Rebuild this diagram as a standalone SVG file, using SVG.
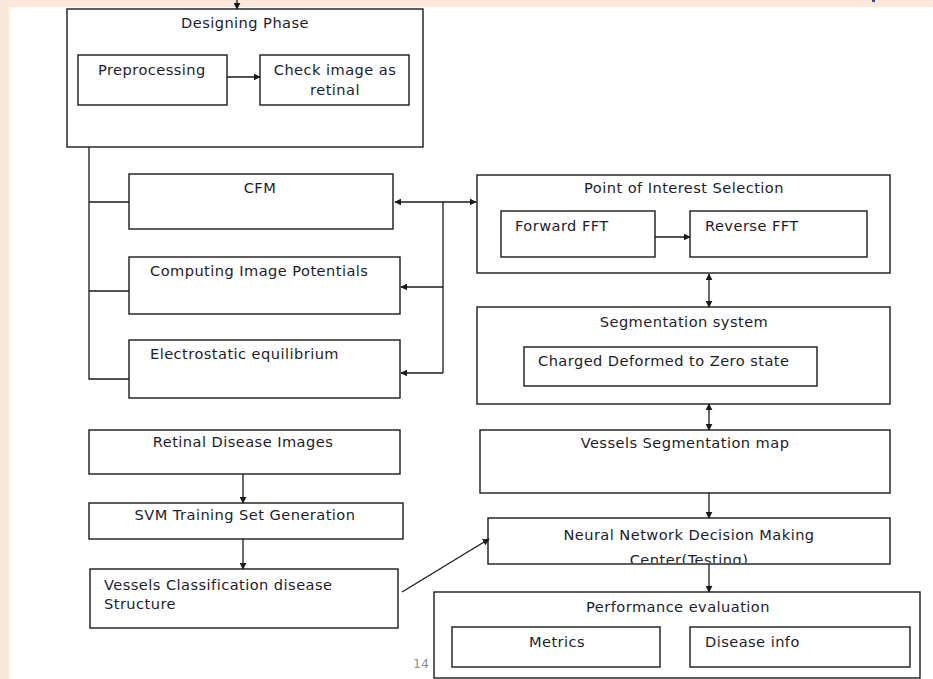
<svg xmlns="http://www.w3.org/2000/svg" width="933" height="679" viewBox="0 0 933 679">
<defs>
<style>
.box{fill:#fff;stroke:#1a1a1a;stroke-width:1.4}
.ln{fill:none;stroke:#1a1a1a;stroke-width:1.3}
.t{font-family:"DejaVu Sans","Liberation Sans",sans-serif;font-size:14.6px;letter-spacing:0.45px;fill:#1c1c2c}
.c{text-anchor:middle}
</style>
<marker id="ah" viewBox="0 0 10 10" refX="9" refY="5" markerWidth="7" markerHeight="7" orient="auto-start-reverse" markerUnits="userSpaceOnUse">
<path d="M0,0 L10,5 L0,10 z" fill="#1a1a1a"/>
</marker>
<clipPath id="nnclip"><rect x="488" y="518" width="402" height="45"/></clipPath>
</defs>
<rect x="0" y="0" width="933" height="679" fill="#fff"/>
<rect x="0" y="0" width="933" height="7" fill="#fce8da"/>
<rect x="0" y="0" width="9" height="679" fill="#fce8da"/>
<rect x="872" y="0" width="3" height="2" fill="#3a4a80"/>

<g id="designing">
<rect class="box" x="67" y="9" width="356" height="138"/>
<text class="t c" x="245" y="28">Designing Phase</text>
</g>
<g id="preprocessing">
<rect class="box" x="78" y="55" width="149" height="50"/>
<text class="t" x="98" y="75">Preprocessing</text>
</g>
<g id="check">
<rect class="box" x="260" y="55" width="149" height="50"/>
<text class="t c" x="335" y="75">Check image as</text>
<text class="t c" x="335" y="95">retinal</text>
</g>
<g id="cfm">
<rect class="box" x="129" y="174" width="264" height="55"/>
<text class="t c" x="260" y="193">CFM</text>
</g>
<g id="computing">
<rect class="box" x="129" y="257" width="271" height="57"/>
<text class="t" x="150" y="276">Computing Image Potentials</text>
</g>
<g id="electro">
<rect class="box" x="129" y="340" width="271" height="58"/>
<text class="t" x="150" y="359">Electrostatic equilibrium</text>
</g>
<g id="poi">
<rect class="box" x="477" y="175" width="413" height="98"/>
<text class="t c" x="684" y="193">Point of Interest Selection</text>
</g>
<g id="forward">
<rect class="box" x="501" y="211" width="154" height="46"/>
<text class="t" x="515" y="231">Forward FFT</text>
</g>
<g id="reverse">
<rect class="box" x="690" y="211" width="177" height="46"/>
<text class="t" x="705" y="231">Reverse FFT</text>
</g>
<g id="segmentation">
<rect class="box" x="477" y="307" width="413" height="97"/>
<text class="t c" x="684" y="327">Segmentation system</text>
</g>
<g id="charged">
<rect class="box" x="524" y="347" width="293" height="39"/>
<text class="t" x="538" y="366">Charged Deformed to Zero state</text>
</g>
<g id="vesselsmap">
<rect class="box" x="480" y="430" width="410" height="63"/>
<text class="t c" x="685" y="448">Vessels Segmentation map</text>
</g>
<g id="neural">
<rect class="box" x="488" y="518" width="402" height="46"/>
<text class="t c" x="689" y="540">Neural Network Decision Making</text>
<text class="t c" x="689" y="565" clip-path="url(#nnclip)">Center(Testing)</text>
</g>
<g id="performance">
<rect class="box" x="434" y="592" width="486" height="86"/>
<text class="t c" x="678" y="612">Performance evaluation</text>
</g>
<g id="metrics">
<rect class="box" x="452" y="627" width="208" height="40"/>
<text class="t c" x="557" y="647">Metrics</text>
</g>
<g id="diseaseinfo">
<rect class="box" x="690" y="627" width="220" height="40"/>
<text class="t" x="705" y="647">Disease info</text>
</g>
<g id="retinal">
<rect class="box" x="89" y="430" width="311" height="44"/>
<text class="t c" x="243" y="447">Retinal Disease Images</text>
</g>
<g id="svm">
<rect class="box" x="89" y="503" width="314" height="36"/>
<text class="t c" x="245" y="520">SVM Training Set Generation</text>
</g>
<g id="vesselsclass">
<rect class="box" x="90" y="569" width="308" height="59"/>
<text class="t" x="104" y="590">Vessels Classification disease</text>
<text class="t" x="104" y="609">Structure</text>
</g>
<text x="413" y="668" font-family="DejaVu Sans,sans-serif" font-size="12.5" fill="#8c8c8c">14</text>

<g id="connectors">
<line class="ln" x1="237" y1="0" x2="237" y2="9" marker-end="url(#ah)"/>
<line class="ln" x1="227" y1="77" x2="260" y2="77" marker-end="url(#ah)"/>
<polyline class="ln" points="89,147 89,379 129,379"/>
<line class="ln" x1="89" y1="202" x2="129" y2="202"/>
<line class="ln" x1="89" y1="291" x2="129" y2="291"/>
<line class="ln" x1="395" y1="202" x2="476" y2="202" marker-start="url(#ah)" marker-end="url(#ah)"/>
<line class="ln" x1="443" y1="202" x2="443" y2="373"/>
<line class="ln" x1="443" y1="287" x2="401" y2="287" marker-end="url(#ah)"/>
<line class="ln" x1="443" y1="373" x2="401" y2="373" marker-end="url(#ah)"/>
<line class="ln" x1="655" y1="237" x2="690" y2="237" marker-end="url(#ah)"/>
<line class="ln" x1="709" y1="274" x2="709" y2="307" marker-start="url(#ah)" marker-end="url(#ah)"/>
<line class="ln" x1="709" y1="404" x2="709" y2="430" marker-start="url(#ah)" marker-end="url(#ah)"/>
<line class="ln" x1="709" y1="493" x2="709" y2="518" marker-end="url(#ah)"/>
<line class="ln" x1="709" y1="564" x2="709" y2="592" marker-end="url(#ah)"/>
<line class="ln" x1="243" y1="474" x2="243" y2="503" marker-end="url(#ah)"/>
<line class="ln" x1="243" y1="539" x2="243" y2="569" marker-end="url(#ah)"/>
<line class="ln" x1="402" y1="592" x2="489" y2="539" marker-end="url(#ah)"/>
</g>
</svg>
